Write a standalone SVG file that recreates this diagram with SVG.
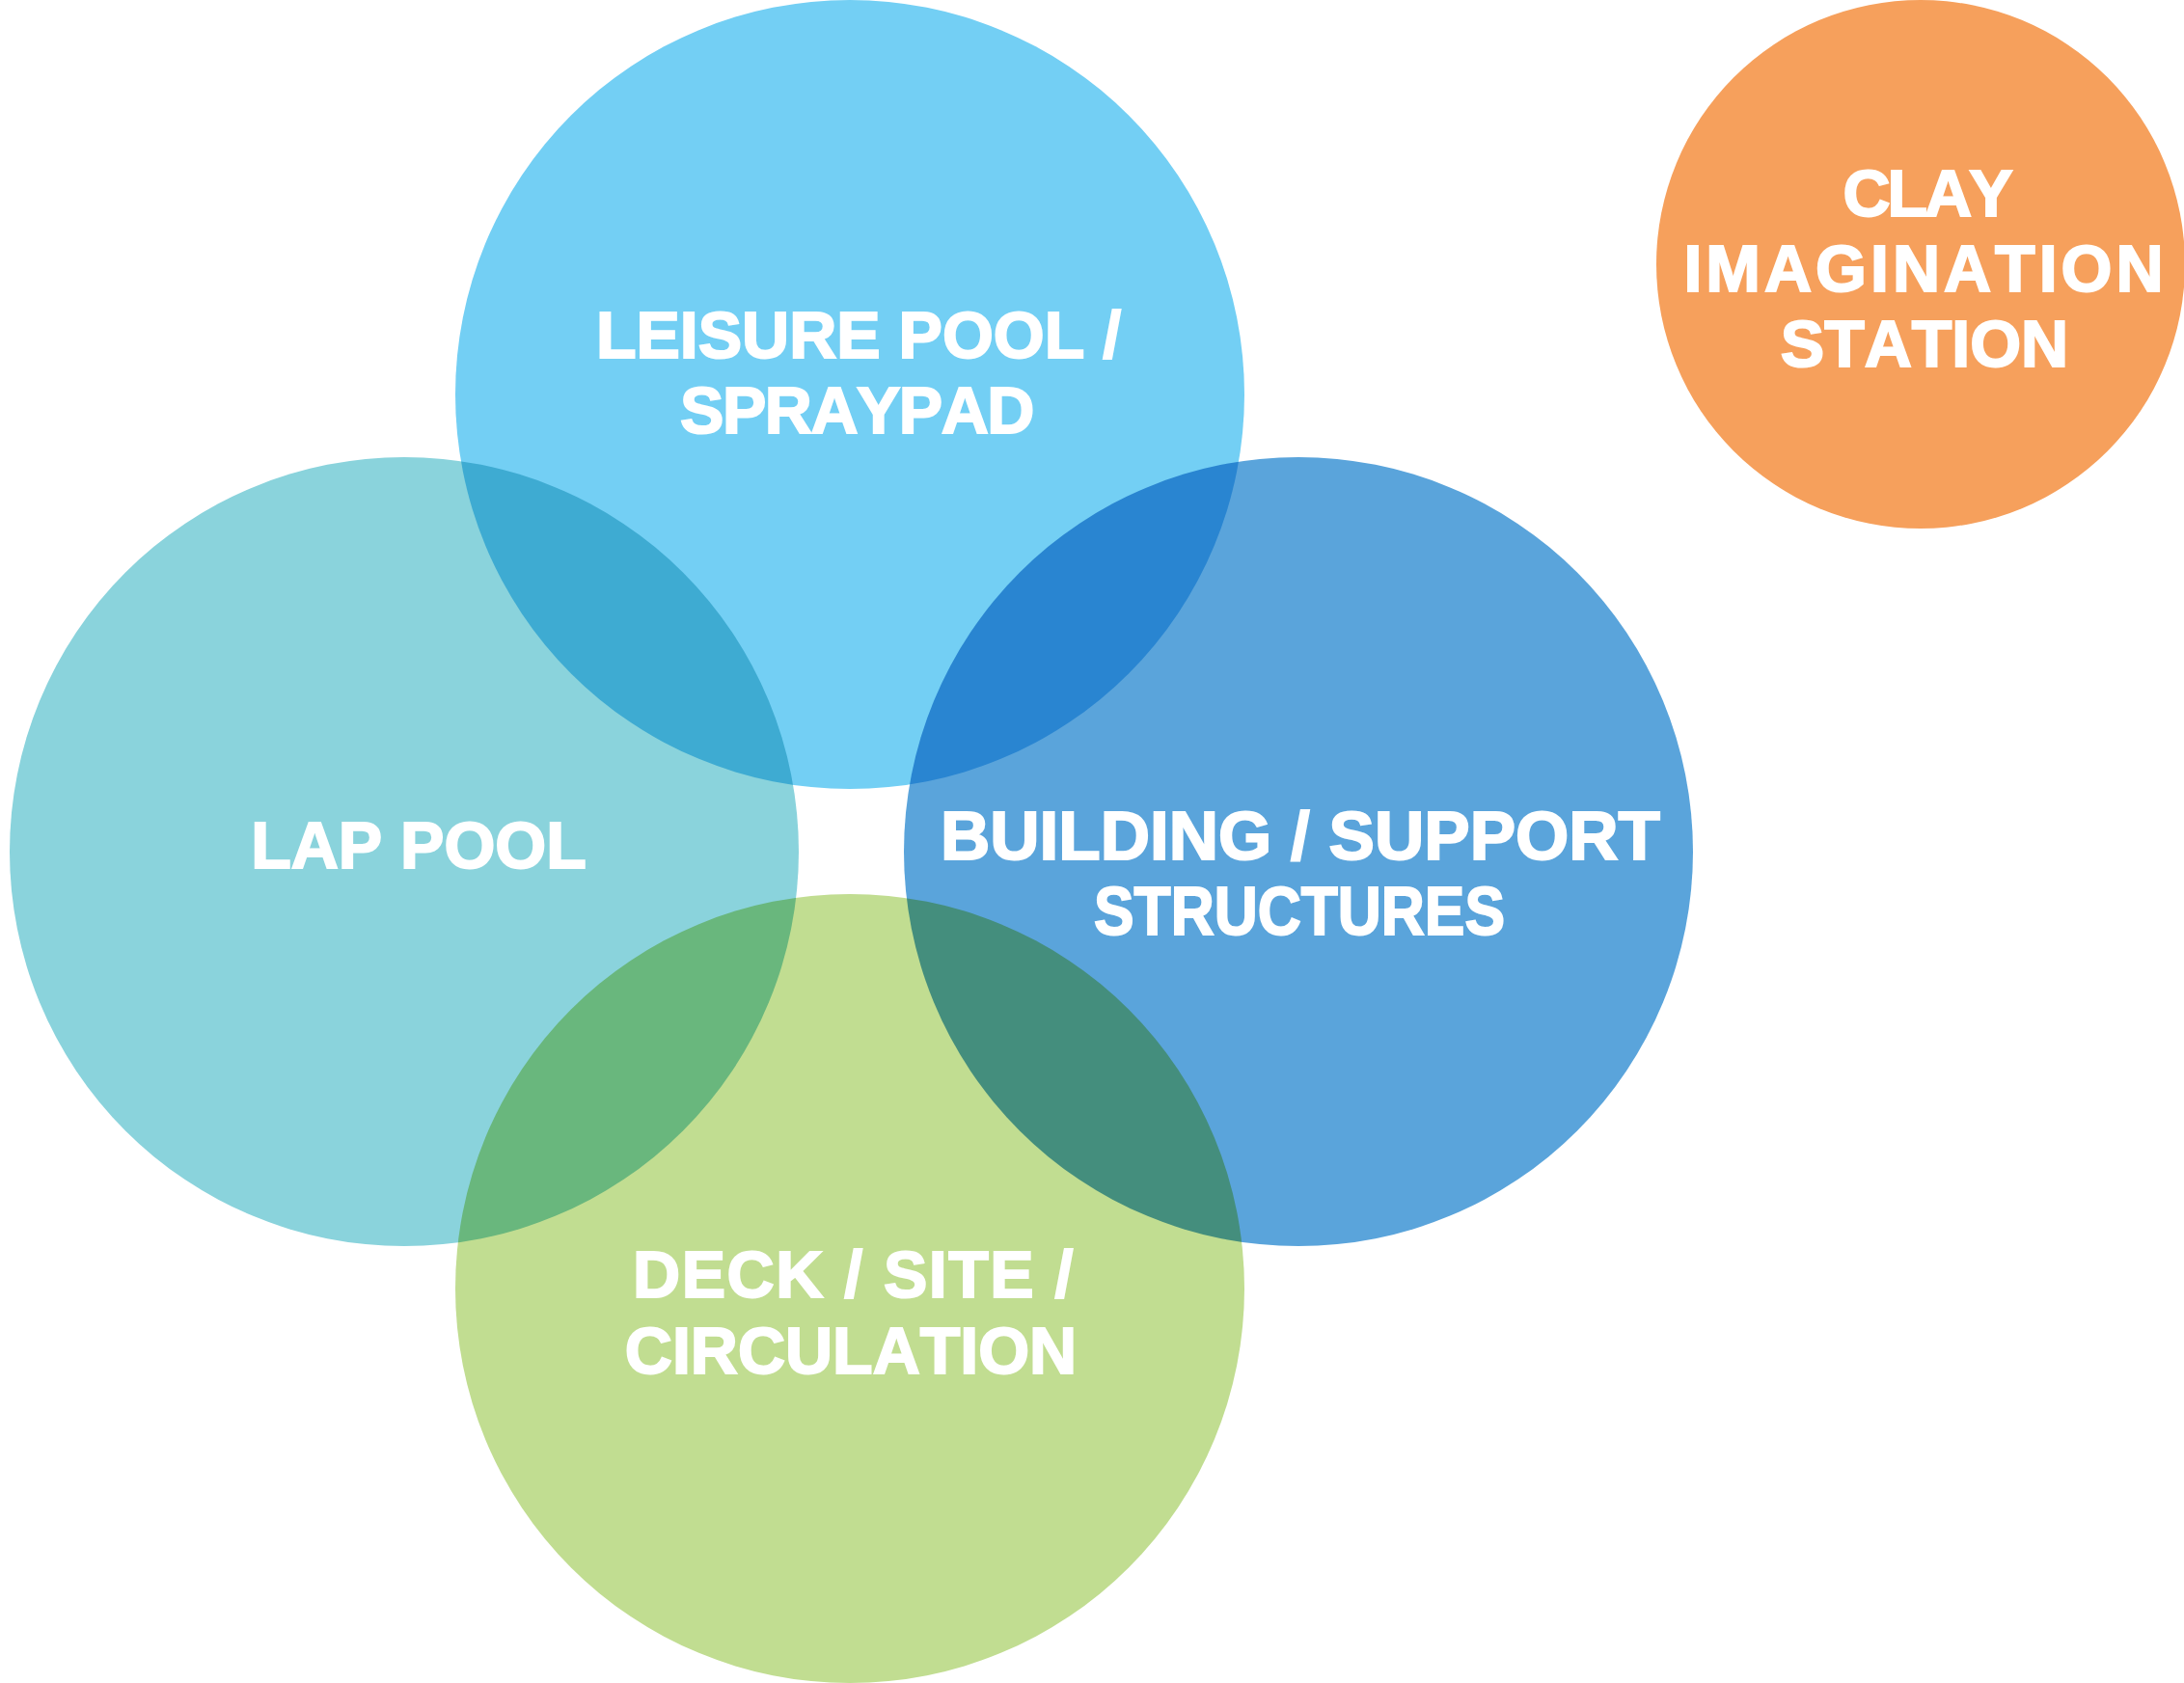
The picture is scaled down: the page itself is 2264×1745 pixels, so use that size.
<svg xmlns="http://www.w3.org/2000/svg" width="2264" height="1745" viewBox="0 0 2264 1745">
<style>
  .c { mix-blend-mode: multiply; stroke: none; }
  .t { font-family: "Liberation Sans", Arial, sans-serif; font-weight: bold; font-size: 68px; fill: #ffffff; stroke: #ffffff; stroke-width: 2px; text-anchor: middle; font-kerning: none; }
</style>
<rect x="0" y="0" width="2264" height="1745" fill="#ffffff"/>
<g id="leisure-pool">
  <circle class="c" cx="881" cy="409" r="409" fill="#73CFF4"/>
</g>
<g id="lap-pool">
  <circle class="c" cx="419" cy="883" r="409" fill="#8AD3DC"/>
</g>
<g id="building">
  <circle class="c" cx="1346" cy="883" r="409" fill="#5AA4DB"/>
</g>
<g id="deck">
  <circle class="c" cx="881" cy="1336" r="409" fill="#C1DD91"/>
</g>
<g id="clay">
  <circle class="c" cx="1991" cy="274" r="274" fill="#F6A05C"/>
</g>
<g id="connectors"></g>
<g id="labels">
  <text class="t" x="890" y="371" letter-spacing="0">LEISURE POOL /</text>
  <text class="t" x="888" y="449" letter-spacing="-1.5">SPRAYPAD</text>
  <text class="t" x="434" y="900" letter-spacing="0">LAP POOL</text>
  <text class="t" x="975" y="891" textLength="746" lengthAdjust="spacingAndGlyphs" style="font-size:70px;text-anchor:start">BUILDING / SUPPORT</text>
  <text class="t" x="1134" y="969" textLength="426" lengthAdjust="spacingAndGlyphs" style="font-size:70px;text-anchor:start">STRUCTURES</text>
  <text class="t" x="885" y="1345" letter-spacing="1.5">DECK / SITE /</text>
  <text class="t" x="882" y="1424" letter-spacing="0">CIRCULATION</text>
  <text class="t" x="1997" y="224" letter-spacing="-3">CLAY</text>
  <text class="t" x="1996" y="302" letter-spacing="4">IMAGINATION</text>
  <text class="t" x="1995" y="380" letter-spacing="0">STATION</text>
</g>
</svg>
